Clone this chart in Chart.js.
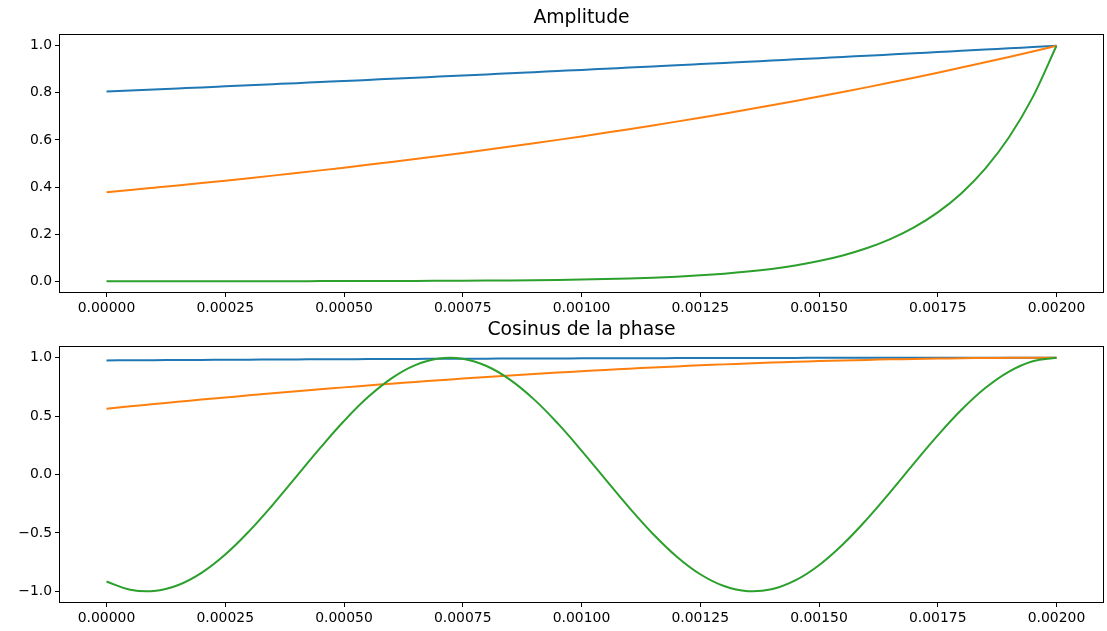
<!DOCTYPE html>
<html><head><meta charset="utf-8">
<script src="https://cdn.jsdelivr.net/npm/chart.js@4/dist/chart.umd.min.js"></script>
<style>
html,body{margin:0;padding:0;background:#fff;width:1107px;height:631px;overflow:hidden}
#c1{position:absolute;left:0;top:0}
#c2{position:absolute;left:0;top:316px}
</style></head>
<body>
<canvas id="c1" width="1107" height="316"></canvas>
<canvas id="c2" width="1107" height="315"></canvas>
<script>
// ---- data ----
const xValues = [0, 0.00005, 0.0001, 0.00015, 0.0002, 0.00025, 0.0003, 0.00035, 0.0004, 0.00045,
  0.0005, 0.00055, 0.0006, 0.00065, 0.0007, 0.00075, 0.0008, 0.00085, 0.0009, 0.00095,
  0.001, 0.00105, 0.0011, 0.00115, 0.0012, 0.00125, 0.0013, 0.00135, 0.0014, 0.00145,
  0.0015, 0.00155, 0.0016, 0.00165, 0.0017, 0.00175, 0.0018, 0.00185, 0.0019, 0.00195, 0.002];

const ampBlue = [0.8057,0.8101,0.8145,0.8189,0.8233,0.8278,0.8323,0.8368,0.8413,0.8459,
  0.8504,0.8551,0.8597,0.8644,0.8690,0.8737,0.8785,0.8832,0.8880,0.8928,
  0.8976,0.9025,0.9074,0.9123,0.9172,0.9222,0.9272,0.9322,0.9373,0.9423,
  0.9474,0.9526,0.9577,0.9629,0.9681,0.9734,0.9786,0.9839,0.9893,0.9946,1.0];
const ampOrange = [0.3783,0.3876,0.3972,0.4069,0.4169,0.4272,0.4377,0.4485,0.4595,0.4708,
  0.4824,0.4942,0.5064,0.5188,0.5316,0.5447,0.5581,0.5718,0.5859,0.6003,
  0.6151,0.6302,0.6457,0.6616,0.6779,0.6945,0.7116,0.7291,0.7471,0.7654,
  0.7843,0.8036,0.8233,0.8436,0.8643,0.8856,0.9074,0.9297,0.9526,0.9760,1.0];
const ampGreen = [0.00005,0.00007,0.00009,0.00011,0.00014,0.00018,0.00023,0.00030,0.00038,0.00049,
  0.00063,0.00080,0.00102,0.00131,0.00167,0.00214,0.00273,0.00349,0.00447,0.00571,
  0.00731,0.00934,0.01195,0.01528,0.01954,0.02499,0.03196,0.04087,0.05227,0.06684,
  0.08548,0.10931,0.13979,0.17877,0.22862,0.29237,0.37389,0.47814,0.61143,0.78194,1.0];

const cosBlue = [0.9768,0.9779,0.9790,0.9801,0.9812,0.9822,0.9832,0.9842,0.9851,0.9860,
  0.9869,0.9878,0.9886,0.9894,0.9902,0.9909,0.9916,0.9923,0.9930,0.9936,
  0.9942,0.9947,0.9953,0.9958,0.9963,0.9967,0.9971,0.9975,0.9979,0.9982,
  0.9985,0.9988,0.9991,0.9993,0.9995,0.9996,0.9998,0.9999,0.9999,1.0000,1.0];
const cosOrange = [0.5637,0.5836,0.6031,0.6223,0.6412,0.6596,0.6777,0.6953,0.7126,0.7294,
  0.7458,0.7618,0.7773,0.7924,0.8070,0.8211,0.8347,0.8478,0.8605,0.8726,
  0.8842,0.8953,0.9059,0.9159,0.9254,0.9343,0.9427,0.9505,0.9578,0.9645,
  0.9706,0.9762,0.9812,0.9856,0.9894,0.9926,0.9953,0.9973,0.9988,0.9997,1.0];
const cosGreen = [-0.9158,-0.9861,-0.9969,-0.9478,-0.8416,-0.6848,-0.4867,-0.2594,-0.0164,0.2275,
  0.4578,0.6605,0.8234,0.9368,0.9938,0.9910,0.9285,0.8102,0.6431,0.4373,
  0.2052,-0.0393,-0.2814,-0.5066,-0.7013,-0.8538,-0.9548,-0.9985,-0.9820,-0.9064,
  -0.7763,-0.5994,-0.3865,-0.1503,0.0950,0.3345,0.5539,0.7399,0.8814,0.9699,1.0];

const xTickValues = [0, 0.00025, 0.0005, 0.00075, 0.001, 0.00125, 0.0015, 0.00175, 0.002];
const ampTickValues = [0, 0.2, 0.4, 0.6, 0.8, 1.0];
const cosTickValues = [-1.0, -0.5, 0.0, 0.5, 1.0];
const titles = ['Amplitude', 'Cosinus de la phase'];
const colors = ['#1f77b4', '#ff7f0e', '#2ca02c'];

// ---- chart building ----
Chart.defaults.font.family = 'DejaVu Sans';
Chart.defaults.color = '#000';

const framePlugin = {
  id: 'frame',
  afterDatasetsDraw(chart) {
    const {ctx, chartArea: a} = chart;
    ctx.save();
    ctx.strokeStyle = '#000';
    ctx.lineWidth = 1;
    ctx.strokeRect(Math.round(a.left) + 0.5, Math.round(a.top) + 0.5,
      Math.round(a.right - a.left) - 1, Math.round(a.bottom - a.top) - 1);
    ctx.restore();
  }
};

const tickFont = {family: 'DejaVu Sans', size: 13.9};

function toPoints(ys) { return xValues.map((x, i) => ({x: x, y: ys[i]})); }

function makeDataset(ys, idx, smoothMode) {
  const ds = {
    data: toPoints(ys),
    borderColor: colors[idx],
    backgroundColor: colors[idx],
    borderWidth: 2,
    pointRadius: 0,
    fill: false,
    order: 2 - idx
  };
  if (smoothMode === 'monotone') ds.cubicInterpolationMode = 'monotone';
  else ds.tension = 0.4;
  return ds;
}

function makeChart(canvasId, title, series, yMin, yMax, yTicks, xHeight, titlePad, smoothMode) {
  return new Chart(document.getElementById(canvasId), {
    type: 'line',
    data: {datasets: series.map((s, i) => makeDataset(s, i, smoothMode))},
    options: {
      responsive: false,
      animation: false,
      devicePixelRatio: 1,
      layout: {padding: {left: 0, right: 3, top: 0, bottom: 0}},
      plugins: {
        legend: {display: false},
        tooltip: {enabled: false},
        title: {
          display: true, text: title, fullSize: false, color: '#000',
          font: {family: 'DejaVu Sans', size: 18.8, weight: 'normal', lineHeight: 1.2},
          padding: titlePad
        }
      },
      scales: {
        x: {
          type: 'linear', min: -0.0001, max: 0.0021,
          afterBuildTicks: s => { s.ticks = xTickValues.map(v => ({value: v})); },
          afterFit: s => { s.height = xHeight; },
          ticks: {callback: v => v.toFixed(5), color: '#000', font: tickFont, padding: 3,
                  maxRotation: 0, autoSkip: false},
          grid: {drawOnChartArea: false, drawTicks: true, tickLength: 4, color: '#000'},
          border: {display: false}
        },
        y: {
          type: 'linear', min: yMin, max: yMax,
          afterBuildTicks: s => { s.ticks = yTicks.map(v => ({value: v})); },
          afterFit: s => { s.width = 59; },
          ticks: {callback: v => v.toFixed(1).replace('-', '\u2212'), color: '#000', font: tickFont,
                  padding: 3, autoSkip: false},
          grid: {drawOnChartArea: false, drawTicks: true, tickLength: 4, color: '#000'},
          border: {display: false}
        }
      }
    },
    plugins: [framePlugin]
  });
}

makeChart('c1', titles[0], [ampBlue, ampOrange, ampGreen], -0.05, 1.05, ampTickValues, 23,
  {top: 7.1, bottom: 4.34}, 'monotone');
makeChart('c2', titles[1], [cosBlue, cosOrange, cosGreen], -1.1, 1.1, cosTickValues, 28,
  {top: 3.1, bottom: 4.34}, 'bezier');
</script>
</body></html>
